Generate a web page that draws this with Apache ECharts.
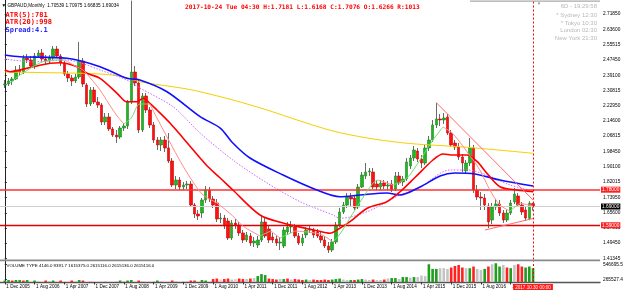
<!DOCTYPE html>
<html>
<head>
<meta charset="utf-8">
<script src="https://cdn.jsdelivr.net/npm/echarts@6/dist/echarts.min.js"></script>
<style>
  html, body { margin: 0; padding: 0; background: #fff; }
  #chart { width: 625px; height: 292px; }
</style>
</head>
<body>
<div id="chart"></div>
<script>
// monthly GBPAUD bars, Dec 2005 .. Oct 2017 : [open, close, low, high]
const ohlc = [
  [2.3392,2.3446,2.3232,2.3659],[2.3446,2.3606,2.3339,2.3766],[2.3606,2.3713,2.3392,2.3820],[2.3713,2.4194,2.3659,2.4407],
  [2.4194,2.4087,2.3927,2.4461],[2.4087,2.4835,2.3980,2.4995],[2.4835,2.4728,2.4567,2.5048],[2.4728,2.4407,2.4300,2.4941],
  [2.4407,2.4941,2.4247,2.5102],[2.4941,2.5102,2.4835,2.5262],[2.5102,2.4781,2.4674,2.5315],[2.4781,2.4674,2.4514,2.4995],
  [2.4674,2.4835,2.4567,2.4995],[2.4835,2.5315,2.4728,2.5476],[2.5315,2.4941,2.4835,2.5476],[2.4941,2.4567,2.4407,2.5048],
  [2.4567,2.3980,2.3873,2.4674],[2.3980,2.3766,2.3552,2.4140],[2.3766,2.3606,2.3339,2.3927],[2.3606,2.3820,2.3499,2.3980],
  [2.3820,2.4674,2.3713,2.5689],[2.4674,2.3446,2.3285,2.4835],[2.3392,2.2377,2.2217,2.3499],[2.2377,2.3125,2.2270,2.3285],
  [2.3125,2.2484,2.2377,2.3285],[2.2484,2.2324,2.2164,2.2751],[2.2324,2.1416,2.1255,2.2431],[2.1416,2.1683,2.1255,2.1896],
  [2.1683,2.1042,2.0935,2.1896],[2.1042,2.0721,2.0614,2.1149],[2.0721,2.0614,2.0294,2.0988],[2.0614,2.1095,2.0508,2.1202],
  [2.1095,2.1202,2.0935,2.1362],[2.1202,2.2484,2.1042,2.2591],[2.2484,2.4087,2.2377,2.7901],[2.4087,2.3499,2.3339,2.4407],
  [2.3499,2.0988,2.0828,2.3659],[2.0988,2.2805,2.0882,2.2965],[2.2805,2.2057,2.1896,2.2965],[2.2057,2.1255,2.1095,2.2217],
  [2.1255,2.0454,2.0294,2.1416],[2.0454,2.0187,1.9920,2.0614],[2.0187,2.0454,1.9866,2.0614],[2.0454,2.0027,1.9813,2.0668],
  [2.0027,1.9332,1.9225,2.0828],[1.9332,1.8050,1.7943,1.9492],[1.8050,1.8317,1.7837,1.8531],[1.8317,1.7943,1.7783,1.8478],
  [1.7943,1.8050,1.7783,1.8210],[1.8050,1.8104,1.7837,1.8264],[1.8104,1.6982,1.6875,1.8264],[1.6982,1.6501,1.6287,1.7089],
  [1.6501,1.6394,1.6181,1.6715],[1.6554,1.7249,1.6287,1.7356],[1.7249,1.7783,1.7089,1.7997],[1.7783,1.7302,1.7142,1.7943],
  [1.7302,1.6982,1.6822,1.7463],[1.7089,1.6234,1.6074,1.7302],[1.6234,1.6287,1.6020,1.6554],[1.6287,1.5860,1.5700,1.6448],
  [1.6127,1.5219,1.5112,1.6287],[1.5219,1.6020,1.5112,1.6181],[1.6020,1.5913,1.5700,1.6234],[1.5913,1.5486,1.5326,1.6074],
  [1.5486,1.5112,1.4952,1.5646],[1.5112,1.5379,1.5005,1.5539],[1.5326,1.4952,1.4792,1.5486],[1.4952,1.5059,1.4738,1.5272],
  [1.4845,1.5112,1.4685,1.5326],[1.5112,1.6074,1.5005,1.6394],[1.6074,1.5326,1.5219,1.6287],[1.5700,1.5112,1.4952,1.5860],
  [1.5272,1.5112,1.4952,1.5486],[1.5166,1.4952,1.4792,1.5326],[1.4952,1.5005,1.4578,1.5272],[1.4792,1.5646,1.4685,1.5807],
  [1.5539,1.5807,1.5379,1.6074],[1.5807,1.5860,1.5486,1.6127],[1.5807,1.5326,1.5219,1.5967],[1.5326,1.4952,1.4845,1.5486],
  [1.4952,1.5219,1.4792,1.5433],[1.5379,1.5646,1.5219,1.5807],[1.5646,1.5700,1.5486,1.5860],[1.5646,1.5379,1.5219,1.5753],
  [1.5539,1.5326,1.5219,1.5700],[1.5326,1.5112,1.4952,1.5539],[1.5112,1.4792,1.4685,1.5326],[1.4792,1.4578,1.4418,1.5005],
  [1.4578,1.5005,1.4471,1.5166],[1.5005,1.5913,1.4898,1.6074],[1.5913,1.6608,1.5807,1.6822],[1.6608,1.6982,1.6501,1.7142],
  [1.6982,1.7409,1.6822,1.7623],[1.7409,1.7302,1.6928,1.7623],[1.7356,1.6822,1.6715,1.7516],[1.6875,1.7943,1.6768,1.8104],
  [1.7943,1.8584,1.7890,1.8745],[1.8531,1.8745,1.8371,1.9225],[1.8745,1.8798,1.8531,1.8958],[1.8745,1.7943,1.7837,1.8958],
  [1.8104,1.7943,1.7783,1.8317],[1.7943,1.8157,1.7783,1.8317],[1.8157,1.7997,1.7837,1.8317],[1.7997,1.8050,1.7783,1.8264],
  [1.8104,1.7783,1.7676,1.8317],[1.7837,1.8531,1.7730,1.8745],[1.8531,1.8157,1.8050,1.8745],[1.8210,1.8371,1.7997,1.8531],
  [1.8371,1.9279,1.8264,1.9492],[1.9065,1.9492,1.8905,1.9653],[1.9492,1.9920,1.9332,2.0134],[1.9866,1.9439,1.9279,2.0027],
  [1.9439,1.9225,1.8958,1.9653],[1.9225,2.0027,1.9119,2.0187],[2.0027,2.0454,1.9866,2.0668],[2.0454,2.1255,2.0347,2.1523],
  [2.1255,2.1576,2.1095,2.2447],[2.1576,2.1523,2.1202,2.1843],[2.1523,2.1629,2.1309,2.1896],[2.1683,2.0828,2.0721,2.1843],
  [2.0828,2.0187,2.0080,2.0988],[2.0294,2.0080,1.9920,2.0454],[2.0080,1.9546,1.9386,2.0294],[1.9546,1.9225,1.8745,1.9706],
  [1.8798,1.9225,1.8638,1.9386],[1.9225,2.0027,1.9065,2.0561],[2.0027,1.7783,1.7623,2.0187],[1.7783,1.7409,1.7249,1.8050],
  [1.7409,1.7356,1.6715,1.7676],[1.7356,1.6982,1.6715,1.7569],[1.6928,1.6074,1.5753,1.7089],[1.6181,1.6875,1.5967,1.7089],
  [1.6875,1.7035,1.6715,1.7302],[1.7035,1.6554,1.6394,1.7249],[1.6554,1.6181,1.6020,1.6715],[1.6181,1.6554,1.6074,1.6715],
  [1.6554,1.7089,1.6448,1.7249],[1.7142,1.7569,1.7035,1.7890],[1.7463,1.6982,1.6875,1.7623],[1.6982,1.6608,1.6448,1.7142],
  [1.6715,1.6287,1.6127,1.6928],[1.6266,1.7076,1.6168,1.7181],[1.70539,1.69034,1.66835,1.70975]
];

const volume = [
  243500,252600,243500,252600,252600,243500,252600,234300,243500,234300,234300,243500,234300,243500,
  234300,243500,234300,234300,243500,234300,252600,243500,234300,234300,234300,234300,234300,234300,
  234300,234300,234300,243500,234300,243500,252600,234300,243500,234300,234300,234300,234300,243500,
  234300,234300,234300,243500,234300,234300,234300,234300,243500,243500,234300,252600,243500,234300,
  271000,280200,261800,271000,280200,261800,271000,280200,271000,271000,280200,289400,326200,362900,344500,
  280200,271000,261800,271000,271000,280200,261800,271000,261800,252600,261800,252600,261800,252600,252600,
  261800,252600,261800,271000,280200,261800,252600,252600,252600,261800,271000,261800,252600,261800,
  252600,252600,261800,280200,289400,289400,271000,307800,307800,298600,307800,307800,335300,326200,
  546700,460300,460300,473200,473200,460300,486000,515400,533800,486000,473200,473200,504400,460300,441900,
  460300,504400,546700,565000,504400,533800,486000,473200,533800,546700,504400,486000,504400,473200
];
// g = up, r = down, s = neutral, p = weak
const volKind = ('ggrggrgpgsprsgprpprsgrpsppps' + 'ppsgsggprsppsgspprspssrrpggp' +
  'rrprrsprrsrsgggrrrsgrsrrrgsrrr' + 'rrgggssgrggssrssrsggsggsgsss' + 'gggsssrrrrsgrssgrsggsrgsrrggg').split('');

const maYellow = [[0,2.4087],[16.7,2.4033],[25.6,2.3980],[31.8,2.3836],[36.3,2.3569],[47.9,2.3216],[52.5,2.3034],
  [61.3,2.2591],[70.5,2.2057],[79.4,2.1469],[88.2,2.0935],[97.4,2.0561],[106.2,2.0321],[111.6,2.0224],[124.3,2.0064],[142,1.9744]];
const maBlue = [[0,2.4995],[4.1,2.4904],[16.7,2.4819],[25.6,2.4370],[32.8,2.3750],[36.3,2.3659],[43.6,2.3034],[52.5,2.1699],
  [57.9,2.1095],[61.3,2.0294],[65.9,1.9492],[74.8,1.8584],[83.9,1.7783],[90.1,1.7425],[95.5,1.7516],[102.7,1.7623],
  [106.2,1.7516],[111.6,1.7943],[117,1.8531],[121,1.8691],[126.4,1.8638],[133.1,1.8317],[142,1.7997]];
const maPurple = [[0,2.4781],[7.6,2.4637],[16.7,2.4728],[20.2,2.4584],[25.6,2.4194],[32.8,2.3659],[36.3,2.3232],[45.2,2.2233],
  [52.5,2.0828],[61.3,1.9386],[70.5,1.8157],[79.4,1.7158],[88.2,1.6448],[90.1,1.6271],[97.4,1.6624],[106.2,1.7516],
  [111.6,1.7943],[119.7,1.8852],[124.3,1.8852],[129.6,1.8584],[135.8,1.8050],[142,1.7730]];
const maRed = [[0,2.4194],[1.4,2.4103],[7.6,2.4370],[12.2,2.4552],[14.8,2.4584],[19.4,2.4370],[22.1,2.4017],[25.6,2.3750],
  [30.2,2.2949],[32.8,2.2500],[35.5,2.2500],[37.2,2.2682],[39,2.2415],[40.9,2.2057],[44.4,2.1362],[47.9,2.0561],
  [52.5,1.9492],[54.4,1.9065],[57.9,1.8424],[61.3,1.7783],[68.6,1.6448],[74.8,1.6020],[83.9,1.5609],[87.4,1.5470],
  [89.3,1.5646],[92.8,1.6090],[97.4,1.6806],[102.7,1.7158],[106.2,1.7676],[110.4,1.8478],[115.1,1.9386],[117.8,1.9706],
  [120.5,1.9653],[124.3,1.9653],[127,1.9295],[129.6,1.8675],[133.1,1.7959],[137.7,1.7783],[142,1.7692]];
// fast average, split into rising and falling stretches
const fastUp = [
  [[1.4,2.3499],[4.1,2.3927],[7.6,2.4370],[10.3,2.4637],[14,2.4728],[16.2,2.4728]],
  [[32,2.1309],[34,2.1629],[36.3,2.2377],[39,2.2377]],
  [[68.6,1.5326],[71.5,1.5593]],
  [[74,1.5219],[78,1.5593]],
  [[88.2,1.5005],[90.1,1.5433],[92.8,1.6287],[95.5,1.7142],[99,1.8157],[100.3,1.8317]],
  [[104.3,1.8050],[108.1,1.8424],[111.6,1.9386],[115.1,2.0454],[117.8,2.1149]],
  [[135.8,1.6661],[138.5,1.7089]]
];
const fastDown = [
  [[16.2,2.4728],[18.9,2.4407],[21,2.4194],[23,2.3766],[25.6,2.3125],[28,2.2377],[30.2,2.1736],[32,2.1309]],
  [[39,2.2377],[40.9,2.1629],[45.2,2.0027],[47.9,1.9065],[50.6,1.8210],[53.3,1.7516],[57,1.7089],[61.3,1.6394],[64,1.5860],[68.6,1.5326]],
  [[71.5,1.5593],[74,1.5219]],
  [[78,1.5593],[84.7,1.5433],[88.2,1.5005]],
  [[100.3,1.8317],[104.3,1.8050]],
  [[117.8,2.1149],[120.5,2.0775],[124.3,1.9813],[127.7,1.8852],[130.4,1.7783],[133.1,1.6982],[135.8,1.6661]],
  [[138.5,1.7089],[142,1.6928]]
];
const trendLines = [
  [[116,2.2447],[142,1.7249]],
  [[129.1,1.5646],[142,1.6260]]
];

const upperLevel = 1.7783;
const lowerLevel = 1.5913;
const lastPrice = 1.69034;
const cursorDate = '2017.10.30 00:00';

const priceTicks = [2.71850,2.63600,2.55515,2.47450,2.39100,2.30815,2.22950,2.14600,2.06815,
  1.98450,1.90100,1.82015,1.73950,1.65600,1.57515,1.49450,1.41345];
const volTicks = [265527.4, 546695.5];
const dateTicks = ['1 Dec 2005','1 Aug 2006','1 Apr 2007','1 Dec 2007','1 Aug 2008','1 Apr 2009',
  '1 Dec 2009','1 Aug 2010','1 Apr 2011','1 Dec 2011','1 Aug 2012','1 Apr 2013','1 Dec 2013',
  '1 Aug 2014','1 Apr 2015','1 Dec 2015','1 Aug 2016','1 Apr 2017'];
const dateStep = 8;

const lastBar = ohlc.length - 1;
const dateIdx = dateTicks.map((_, k) => k * dateStep);
const volColors = { g: '#1f9e1f', r: '#ff2020', s: '#c4c4c4', p: '#ffc4c4' };
const tiny = '"Liberation Sans", Arial, sans-serif';

const chart = echarts.init(document.getElementById('chart'));

function lineSeries(data, color, width, type, z) {
  return {
    type: 'line', xAxisIndex: 0, yAxisIndex: 0, data: data,
    showSymbol: false, smooth: 0.3, silent: true, z: z,
    lineStyle: { color: color, width: width, type: type }
  };
}

const series = [
  {
    type: 'bar', xAxisIndex: 1, yAxisIndex: 1, barWidth: 2.6, silent: true,
    data: volume.map((v, i) => [i, v]),
    itemStyle: { color: p => volColors[volKind[p.dataIndex]] },
    markLine: {
      silent: true, symbol: ['none', 'none'], animation: false,
      lineStyle: { color: '#ff0000', type: [2, 2], width: 1 },
      label: {
        show: true, position: 'start', distance: 2, formatter: cursorDate,
        color: '#fff', backgroundColor: '#ff1a1a', fontSize: 4.6, fontFamily: tiny, padding: [1, 2, 0, 2]
      },
      data: [{ xAxis: lastBar }]
    }
  },
  {
    type: 'candlestick', xAxisIndex: 0, yAxisIndex: 0, barWidth: 1, silent: true, z: 2,
    data: ohlc.map((d, i) => [i, d[0], d[1], d[2], d[3]]),
    itemStyle: { color: '#6a6a6a', color0: '#6a6a6a', borderColor: '#6a6a6a', borderColor0: '#6a6a6a', borderWidth: 1 }
  },
  {
    type: 'candlestick', xAxisIndex: 0, yAxisIndex: 0, barWidth: 3, silent: true, z: 3,
    data: ohlc.map((d, i) => [i, d[0], d[1], Math.min(d[0], d[1]), Math.max(d[0], d[1])]),
    itemStyle: { color: '#22b422', color0: '#ff1010', borderColor: '#178a17', borderColor0: '#d00000', borderWidth: 0.6 }
  },
  lineSeries(maYellow, '#f5d000', 1, 'solid', 4),
  lineSeries(maPurple, '#cc66ff', 1, [1.5, 1.5], 4),
  lineSeries(maBlue, '#1010ff', 1.6, 'solid', 5),
  lineSeries(maRed, '#ff0000', 1.6, 'solid', 5)
];
fastUp.forEach(seg => series.push(lineSeries(seg, '#6fe06f', 1, 'solid', 6)));
fastDown.forEach(seg => series.push(lineSeries(seg, '#ff8c8c', 1, 'solid', 6)));
trendLines.forEach(seg => series.push(Object.assign(lineSeries(seg, '#ff6a6a', 1, 'solid', 7), { smooth: false })));

const levelLabel = (bg) => ({
  show: true, position: 'end', distance: 1, formatter: p => p.value.toFixed(5),
  color: '#fff', backgroundColor: bg, fontSize: 4.8, fontFamily: tiny, padding: [1, 1, 0, 1]
});
series.push({
  type: 'line', xAxisIndex: 0, yAxisIndex: 0, data: [[lastBar, lastPrice]], showSymbol: false,
  silent: true, z: 8, lineStyle: { width: 0 },
  markLine: {
    silent: true, symbol: ['none', 'none'], animation: false,
    data: [
      { yAxis: lastPrice, lineStyle: { color: '#cfcfcf', width: 1, type: 'solid' }, label: levelLabel('#000') },
      { yAxis: upperLevel, lineStyle: { color: '#ff3030', width: 1.6, type: 'solid' }, label: levelLabel('#ff2020') },
      { yAxis: lowerLevel, lineStyle: { color: '#e00000', width: 1.3, type: 'solid' }, label: levelLabel('#ff2020') },
      { xAxis: lastBar, lineStyle: { color: '#ff0000', width: 1, type: [2, 2] }, label: { show: false } }
    ]
  }
});

function txt(x, y, text, font, fill, align) {
  return { type: 'text', x: x, y: y, z: 100, silent: true,
    style: { text: text, font: font, fill: fill, align: align || 'left', verticalAlign: 'middle' } };
}

const option = {
  animation: false,
  backgroundColor: '#fff',
  grid: [
    { left: 0, top: 0, width: 600, height: 259.5, outerBoundsMode: 'none' },
    { left: 0, top: 261.3, width: 600, height: 20.7, outerBoundsMode: 'none' }
  ],
  xAxis: [
    { type: 'value', gridIndex: 0, min: -1.29, max: 160,
      axisLine: { show: false }, axisTick: { show: false }, axisLabel: { show: false }, splitLine: { show: false } },
    { type: 'value', gridIndex: 1, min: -1.29, max: 160,
      axisLine: { show: true, onZero: false, lineStyle: { color: '#555', width: 1.4 } },
      axisTick: { show: true, customValues: dateIdx, length: 2.5, lineStyle: { color: '#333' } },
      axisLabel: { show: true, customValues: dateIdx, formatter: v => dateTicks[Math.round(v / dateStep)],
        align: 'left', margin: 2, padding: [0, 0, 0, 1.5], fontSize: 4.6, fontFamily: tiny, color: '#000' },
      splitLine: { show: false } }
  ],
  yAxis: [
    { type: 'value', gridIndex: 0, position: 'right', min: 1.40704, max: 2.79329,
      axisLine: { show: true, lineStyle: { color: '#222', width: 1 } },
      axisTick: { show: true, customValues: priceTicks, length: 2, lineStyle: { color: '#222' } },
      axisLabel: { show: true, customValues: priceTicks, formatter: v => v.toFixed(5), margin: 3,
        fontSize: 4.8, fontFamily: tiny, color: '#000' },
      splitLine: { show: false } },
    { type: 'value', gridIndex: 1, position: 'right', min: 215900, max: 601800,
      axisLine: { show: true, lineStyle: { color: '#222', width: 1 } },
      axisTick: { show: true, customValues: volTicks, length: 2, lineStyle: { color: '#222' } },
      axisLabel: { show: true, customValues: volTicks, formatter: v => v.toFixed(1), margin: 3,
        fontSize: 4.8, fontFamily: tiny, color: '#000' },
      splitLine: { show: false } }
  ],
  series: series,
  graphic: [
    { type: 'rect', z: 90, silent: true, shape: { x: 0, y: 259.5, width: 600, height: 1.8 }, style: { fill: '#8a8a8a' } },
    { type: 'rect', z: 90, silent: true, shape: { x: 470, y: 0.4, width: 130, height: 1.4 }, style: { fill: '#a8a8a8' } },
    txt(1.5, 5.6, '\u25BC GBPAUD,Monthly  1.70539 1.70975 1.66835 1.69034', '4.7px ' + tiny, '#000'),
    txt(5.5, 15, 'ATR(5):781', 'bold 7px "DejaVu Sans Mono", monospace', '#ff0000'),
    txt(5.5, 22.6, 'ATR(20):998', 'bold 7px "DejaVu Sans Mono", monospace', '#ff0000'),
    txt(5.5, 30.3, 'Spread:4.1', 'bold 7px "DejaVu Sans Mono", monospace', '#2828ff'),
    txt(185, 7.2, '2017-10-24 Tue 04:30 H:1.7181 L:1.6168 C:1.7076 O:1.6266 R:1013',
      'bold 6.2px "DejaVu Sans Mono", monospace', '#ff0000'),
    txt(539, 3.4, '\u25BC', '4.5px ' + tiny, '#999', 'center'),
    txt(597, 6.2, '6D - 19:29:58', '6px ' + tiny, '#b8b8b8', 'right'),
    txt(597, 15.7, '* Sydney 12:30', '6px ' + tiny, '#b8b8b8', 'right'),
    txt(597, 23.1, '* Tokyo 10:30', '6px ' + tiny, '#b8b8b8', 'right'),
    txt(597, 30.5, 'London 02:30', '6px ' + tiny, '#b8b8b8', 'right'),
    txt(597, 38.2, 'New York 21:30', '6px ' + tiny, '#b8b8b8', 'right'),
    txt(6.5, 265.5, 'VOLUME TYPE 4146.0 9391.7 1615375.0 2615116.0 2615136.0 2615116.0', '4.4px ' + tiny, '#000')
  ]
};

chart.setOption(option);
</script>
</body>
</html>
